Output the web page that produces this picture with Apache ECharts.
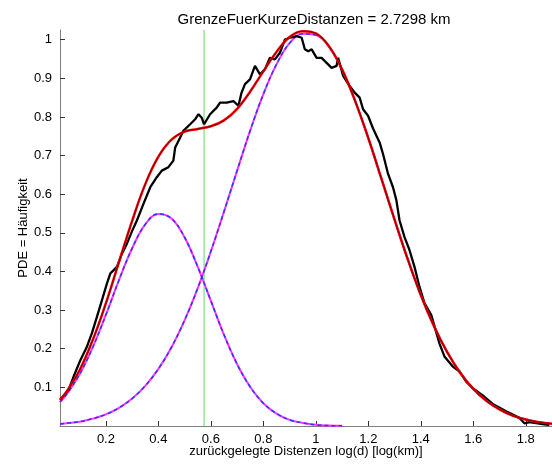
<!DOCTYPE html>
<html><head><meta charset="utf-8">
<script src="https://cdn.jsdelivr.net/npm/echarts@6/dist/echarts.min.js"></script>
<style>html,body{margin:0;padding:0;background:#fff}#c{width:552px;height:468px}</style>
</head><body><div id="c"></div>
<script>
const titleText = 'GrenzeFuerKurzeDistanzen = 2.7298 km';
const xName = 'zurückgelegte Distenzen log(d) [log(km)]';
const yName = 'PDE = Häufigkeit';
const xTicks = [0.2,0.4,0.6,0.8,1,1.2,1.4,1.6,1.8];
const yTicks = [0.1,0.2,0.3,0.4,0.5,0.6,0.7,0.8,0.9,1];
const grenze = 0.574;

const xGrid = [0.025,0.05,0.1,0.15,0.2,0.25,0.3,0.35,0.4,0.45,0.5,0.55,0.6,0.65,0.7,0.75,0.8,0.85,0.9,0.95,1.0,1.05,1.1,1.15,1.2,1.25,1.3,1.35,1.4,1.45,1.5,1.55,1.6,1.65,1.7,1.75,1.8,1.85,1.9];
const comp1 = [0.062,0.082,0.134,0.204,0.288,0.378,0.460,0.522,0.549,0.537,0.488,0.412,0.324,0.236,0.160,0.101,0.059,0.032,0.016,0.008,0.003,0.001,0.0005];
const comp2 = [0.005,0.007,0.011,0.019,0.030,0.047,0.071,0.104,0.148,0.204,0.274,0.357,0.452,0.555,0.661,0.765,0.859,0.936,0.991,1.015,1.012,0.982,0.922,0.841,0.745,0.640,0.534,0.432,0.339,0.259,0.192,0.138,0.096,0.065,0.043,0.027,0.017,0.010,0.006];
const mixture = [0.067,0.089,0.145,0.223,0.318,0.425,0.531,0.626,0.697,0.741,0.762,0.769,0.776,0.791,0.821,0.866,0.918,0.968,1.007,1.022,1.016,0.983,0.923,0.841,0.745,0.640,0.534,0.432,0.339,0.259,0.192,0.138,0.096,0.065,0.043,0.027,0.017,0.010,0.006];

const empX = [0.025,0.058,0.077,0.103,0.128,0.147,0.166,0.185,0.204,0.217,0.242,0.261,0.280,0.300,0.318,0.343,0.369,0.394,0.413,0.438,0.457,0.464,0.483,0.495,0.521,0.540,0.553,0.565,0.574,0.597,0.622,0.635,0.660,0.686,0.705,0.717,0.730,0.749,0.768,0.787,0.806,0.825,0.844,0.863,0.882,0.901,0.927,0.946,0.958,0.971,0.984,1.003,1.022,1.041,1.060,1.079,1.085,1.104,1.129,1.148,1.167,1.180,1.199,1.218,1.243,1.256,1.275,1.294,1.307,1.319,1.338,1.357,1.376,1.395,1.414,1.440,1.471,1.490,1.522,1.548,1.573,1.598,1.636,1.674,1.725,1.776,1.795,1.814,1.852,1.890];
const empY = [0.068,0.094,0.128,0.171,0.206,0.241,0.283,0.326,0.369,0.395,0.412,0.446,0.472,0.505,0.532,0.575,0.618,0.644,0.661,0.670,0.687,0.721,0.747,0.764,0.781,0.794,0.807,0.798,0.781,0.807,0.824,0.837,0.837,0.841,0.829,0.863,0.885,0.897,0.932,0.910,0.923,0.953,0.949,0.966,1.000,1.005,1.009,1.005,0.975,0.970,0.975,0.953,0.953,0.940,0.927,0.932,0.953,0.906,0.880,0.863,0.850,0.820,0.803,0.770,0.734,0.704,0.653,0.618,0.584,0.532,0.489,0.455,0.412,0.360,0.318,0.287,0.214,0.180,0.154,0.141,0.115,0.098,0.079,0.057,0.038,0.021,0.007,0.010,0.006,0.002];

const pairs = (xs, ys) => ys.map((v, i) => [xs[i], v]);
const font = 'Liberation Sans, Arial, sans-serif';
const chart = echarts.init(document.getElementById('c'), null, {renderer: 'canvas'});
const axisCommon = {
  axisLine: {show: true, lineStyle: {color: '#7f7f7f', width: 1}},
  axisTick: {show: true, inside: true, length: 5, lineStyle: {color: '#333'}},
  splitLine: {show: false},
  axisLabel: {color: '#000', fontFamily: font, fontSize: 13},
  nameTextStyle: {color: '#000', fontFamily: font, fontSize: 13},
  nameMoveOverlap: false
};
chart.setOption({
  animation: false,
  backgroundColor: '#fff',
  title: {text: titleText, left: 309, top: 7, textAlign: 'center',
    textStyle: {fontFamily: font, fontSize: 15, fontWeight: 'normal', color: '#000'}},
  grid: {left: 60, right: 0, top: 30, bottom: 42, containLabel: false},
  xAxis: Object.assign({}, axisCommon, {
    type: 'value', min: 0.025, max: 1.9,
    name: xName, nameLocation: 'middle', nameGap: 19,
    axisTick: Object.assign({}, axisCommon.axisTick, {customValues: xTicks}),
    axisLabel: Object.assign({}, axisCommon.axisLabel, {customValues: xTicks, margin: 7})
  }),
  yAxis: Object.assign({}, axisCommon, {
    type: 'value', min: 0, max: 1.025,
    name: yName, nameLocation: 'middle', nameGap: 30,
    axisTick: Object.assign({}, axisCommon.axisTick, {customValues: yTicks}),
    axisLabel: Object.assign({}, axisCommon.axisLabel, {customValues: yTicks, margin: 8})
  }),
  series: [
    {type: 'line', data: [[grenze, 0], [grenze, 1.025]], symbol: 'none',
      lineStyle: {color: '#55e055', width: 1}, z: 1},
    {type: 'line', data: pairs(xGrid, comp2), smooth: 0.4, symbol: 'none',
      lineStyle: {color: '#ff33ff', width: 2}, z: 2},
    {type: 'line', data: pairs(xGrid, comp2), smooth: 0.4, symbol: 'none',
      lineStyle: {color: '#3333ff', width: 1.5, type: [4, 3]}, z: 3},
    {type: 'line', data: pairs(xGrid, comp1), smooth: 0.4, symbol: 'none',
      lineStyle: {color: '#ff33ff', width: 2}, z: 2},
    {type: 'line', data: pairs(xGrid, comp1), smooth: 0.4, symbol: 'none',
      lineStyle: {color: '#3333ff', width: 1.5, type: [4, 3]}, z: 3},
    {type: 'line', data: pairs(empX, empY), symbol: 'none',
      lineStyle: {color: '#000', width: 2.3}, z: 4},
    {type: 'line', data: pairs(xGrid, mixture), smooth: 0.4, symbol: 'none',
      lineStyle: {color: '#ff0000', width: 2.5}, z: 5},
    {type: 'line', data: pairs(xGrid, mixture), smooth: 0.4, symbol: 'none',
      lineStyle: {color: '#7a0000', width: 1}, z: 6}
  ]
});
</script></body></html>
